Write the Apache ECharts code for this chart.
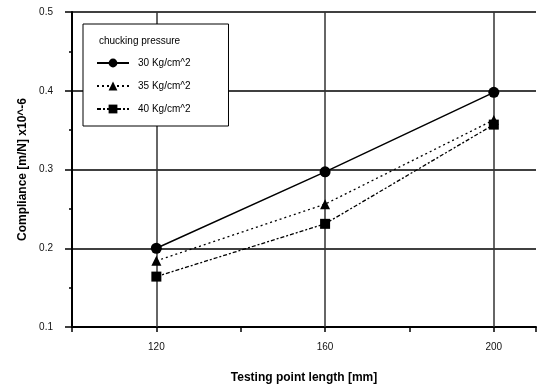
<!DOCTYPE html>
<html>
<head>
<meta charset="utf-8">
<script src="https://cdn.jsdelivr.net/npm/echarts@6/dist/echarts.min.js"></script>
<style>
  html, body { margin: 0; padding: 0; background: #fff; }
  #chart { width: 539px; height: 389px; }
</style>
</head>
<body>
<div id="chart"></div>
<script>
// Testing point positions along the tool (mm)
const lengths = [120, 160, 200];
// Compliance values (m/N x10^-6) for each chucking pressure
const p30 = [0.200, 0.297, 0.398];
const p35 = [0.184, 0.256, 0.363];
const p40 = [0.164, 0.231, 0.357];
const seriesNames = ['30 Kg/cm^2', '35 Kg/cm^2', '40 Kg/cm^2'];
// Grid positions drawn as vertical reference lines
const xGridValues = [120, 160, 200];
const xLabelValues = [120, 160, 200];

const FONT = 'Liberation Sans, Arial, sans-serif';

function pairs(xs, ys) { return xs.map((x, i) => [x, ys[i]]); }

const chart = echarts.init(document.getElementById('chart'), null, { renderer: 'canvas' });

chart.setOption({
  animation: false,
  backgroundColor: '#ffffff',
  grid: { left: 72, top: 12, width: 469, height: 316, containLabel: false },
  xAxis: {
    type: 'value', min: 100, max: 210, interval: 20,
    axisLine: { show: true, lineStyle: { color: '#000', width: 2 } },
    axisTick: { show: true, inside: false, length: 5, lineStyle: { color: '#000', width: 1.5 } },
    axisLabel: {
      color: '#111', fontFamily: FONT, fontSize: 10, margin: 15,
      formatter: v => xLabelValues.includes(v) ? String(v) : ''
    },
    splitLine: { show: false },
    name: 'Testing point length [mm]', nameLocation: 'middle', nameGap: 45,
    nameTextStyle: { color: '#000', fontFamily: FONT, fontSize: 12, fontWeight: 'bold' }
  },
  yAxis: {
    type: 'value', min: 0.1, max: 0.5, interval: 0.1,
    axisLine: { show: true, lineStyle: { color: '#000', width: 2 } },
    axisTick: { show: true, inside: false, length: 7, lineStyle: { color: '#000', width: 1.5 } },
    minorTick: { show: true, splitNumber: 2, length: 3, lineStyle: { color: '#000', width: 1.5 } },
    axisLabel: {
      color: '#111', fontFamily: FONT, fontSize: 10, margin: 19,
      formatter: v => v.toFixed(1)
    },
    splitLine: { show: true, lineStyle: { color: '#000', width: 1.5 } },
    name: 'Compliance [m/N] x10^-6', nameLocation: 'middle', nameGap: 39,
    nameTextStyle: { color: '#000', fontFamily: FONT, fontSize: 12, fontWeight: 'bold' }
  },
  legend: {
    show: true,
    orient: 'vertical',
    left: 83, top: 24,
    padding: [34, 38, 12, 13],
    itemGap: 13,
    itemWidth: 32, itemHeight: 11,
    backgroundColor: '#fff',
    borderColor: '#000', borderWidth: 1,
    textStyle: { color: '#000', fontFamily: FONT, fontSize: 10, padding: [0, 0, 0, 4] },
    data: seriesNames
  },
  graphic: [{
    type: 'text', left: 99, top: 36, z: 100,
    style: { text: 'chucking pressure', fill: '#000', font: '10px ' + FONT }
  }],
  series: [
    {
      name: seriesNames[0], type: 'line', data: pairs(lengths, p30),
      symbol: 'circle', symbolSize: 11, z: 5,
      lineStyle: { color: '#000', width: 1.5, type: 'solid' },
      itemStyle: { color: '#000' },
      markLine: {
        silent: true, symbol: 'none', label: { show: false }, z: 1,
        lineStyle: { color: '#333', width: 1.5, type: 'solid' },
        data: xGridValues.map(v => ({ xAxis: v }))
      }
    },
    {
      name: seriesNames[1], type: 'line', data: pairs(lengths, p35),
      symbol: 'triangle', symbolSize: 10, z: 4,
      lineStyle: { color: '#000', width: 1.3, type: [2, 3] },
      itemStyle: { color: '#000' }
    },
    {
      name: seriesNames[2], type: 'line', data: pairs(lengths, p40),
      symbol: 'rect', symbolSize: 10, z: 3,
      lineStyle: { color: '#000', width: 1.3, type: [4, 2, 2, 2] },
      itemStyle: { color: '#000' }
    }
  ]
});
</script>
</body>
</html>
